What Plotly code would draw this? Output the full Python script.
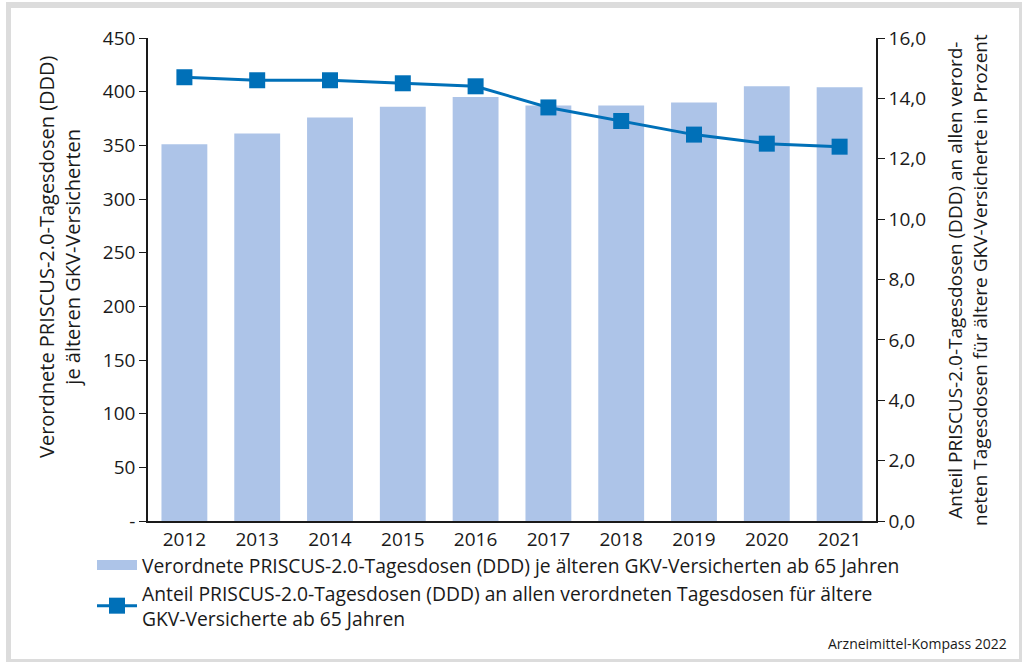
import plotly.graph_objects as go

years = ["2012", "2013", "2014", "2015", "2016", "2017", "2018", "2019", "2020", "2021"]
ddd_per_insured = [351, 361, 376, 386, 395, 387, 387, 390, 405, 404]
share_percent = [14.7, 14.6, 14.6, 14.5, 14.4, 13.7, 13.25, 12.8, 12.5, 12.4]

left_ticks = [0, 50, 100, 150, 200, 250, 300, 350, 400, 450]
left_ticktext = ["-", "50", "100", "150", "200", "250", "300", "350", "400", "450"]
right_ticks = [0, 2, 4, 6, 8, 10, 12, 14, 16]

bar_name = "Verordnete PRISCUS-2.0-Tagesdosen (DDD) je älteren GKV-Versicherten ab 65 Jahren"
line_name = ("Anteil PRISCUS-2.0-Tagesdosen (DDD) an allen verordneten Tagesdosen für ältere"
             "<br>GKV-Versicherte ab 65 Jahren")
left_title = "Verordnete PRISCUS-2.0-Tagesdosen (DDD)<br>je älteren GKV-Versicherten"
right_title = ("Anteil PRISCUS-2.0-Tagesdosen (DDD) an allen verord-"
               "<br>neten Tagesdosen für ältere GKV-Versicherte in Prozent")
source = "Arzneimittel-Kompass 2022"

W, H = 1022, 662
L, R, T, B = 148, 876, 38, 521
FONT = "Open Sans"
FS = 19
TXT = "#1a1a1a"
BAR_COLOR = "#adc4e8"
LINE_COLOR = "#0070b8"


def px(x):
    return (x - L) / (R - L)


def py(y):
    return (B - y) / (B - T)


fig = go.Figure()
# legend-only entry giving the bar series a wide rectangular swatch
fig.add_trace(go.Scatter(x=[None], y=[None], name=bar_name, mode="lines",
                         line=dict(color=BAR_COLOR, width=14), showlegend=True,
                         hoverinfo="skip"))
fig.add_trace(go.Bar(x=years, y=ddd_per_insured, name=bar_name, showlegend=False,
                     marker=dict(color=BAR_COLOR, line=dict(width=0)), yaxis="y"))
fig.add_trace(go.Scatter(x=years, y=share_percent, name=line_name, mode="lines+markers",
                         line=dict(color=LINE_COLOR, width=3),
                         marker=dict(symbol="square", size=16, color=LINE_COLOR),
                         yaxis="y2"))

shapes = []
frame = "#dcdcdc"
for x0, y0, x1, y1 in [(6, 2, 1022, 8), (6, 2, 11, 662), (1019, 2, 1022, 662), (6, 659, 1022, 662)]:
    shapes.append(dict(type="rect", xref="paper", yref="paper",
                       x0=px(x0), x1=px(x1), y0=py(y0), y1=py(y1),
                       fillcolor=frame, line=dict(width=0), layer="below"))

fig.update_layout(
    width=W, height=H,
    margin=dict(l=L, r=W - R, t=T, b=H - B),
    paper_bgcolor="white", plot_bgcolor="white",
    separators=",.",
    font=dict(family=FONT, size=FS, color=TXT),
    bargap=0.37,
    showlegend=True,
    legend=dict(x=px(92), y=py(546), xanchor="left", yanchor="top",
                font=dict(size=19.3, color=TXT), tracegroupgap=0,
                bgcolor="rgba(0,0,0,0)", itemwidth=40),
    xaxis=dict(type="category", categoryorder="array", categoryarray=years,
               range=[-0.5, len(years) - 0.5],
               showline=True, linecolor=TXT, linewidth=1.5, ticks="",
               showgrid=False, tickfont=dict(size=FS), ticklabelstandoff=0),
    yaxis=dict(range=[0, 450], tickvals=left_ticks, ticktext=left_ticktext,
               showline=True, linecolor=TXT, linewidth=1.5, ticks="outside",
               ticklen=7, tickcolor=TXT, showgrid=False, zeroline=False,
               tickfont=dict(size=FS)),
    yaxis2=dict(range=[0, 16], tickvals=right_ticks, tickformat=".1f",
                overlaying="y", side="right",
                showline=True, linecolor=TXT, linewidth=1.5, ticks="outside",
                ticklen=7, tickcolor=TXT, showgrid=False, zeroline=False,
                tickfont=dict(size=FS)),
    shapes=shapes,
    annotations=[
        dict(text=left_title, xref="paper", yref="paper", x=px(59), y=py(257),
             textangle=-90, showarrow=False, font=dict(size=20, color=TXT),
             xanchor="center", yanchor="middle"),
        dict(text=right_title, xref="paper", yref="paper", x=px(967), y=py(280),
             textangle=-90, showarrow=False, font=dict(size=FS, color=TXT),
             xanchor="center", yanchor="middle"),
        dict(text=source, xref="paper", yref="paper", x=px(1009), y=py(643),
             showarrow=False, font=dict(size=14, color=TXT),
             xanchor="right", yanchor="middle"),
    ],
)

fig.write_html("out.html", config={"displayModeBar": False},
               post_script="document.body.style.margin='0';")
